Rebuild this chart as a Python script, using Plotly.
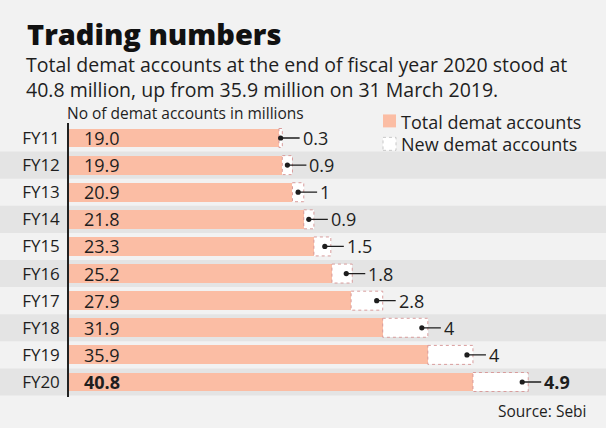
import plotly.graph_objects as go

# ---- data ----
years = ["FY11", "FY12", "FY13", "FY14", "FY15", "FY16", "FY17", "FY18", "FY19", "FY20"]
total_accounts = [19.0, 19.9, 20.9, 21.8, 23.3, 25.2, 27.9, 31.9, 35.9, 40.8]
new_accounts = [0.3, 0.9, 1.0, 0.9, 1.5, 1.8, 2.8, 4.0, 4.0, 4.9]
total_labels = ["19.0", "19.9", "20.9", "21.8", "23.3", "25.2", "27.9", "31.9", "35.9", "40.8"]
new_labels = ["0.3", "0.9", "1", "0.9", "1.5", "1.8", "2.8", "4", "4", "4.9"]

# ---- layout constants ----
W, H = 606, 428
AXIS_PX = 68          # pixel x of the value axis origin
PX_PER_UNIT = 11.28   # horizontal scale
PLOT_TOP, PLOT_BOT = 122.6, 397.2
PINK = "#fbbda4"
BAND = "#e4e4e4"
BG = "#f2f2f2"
TXT = "#1e1e1e"
FONT = "Open Sans"
BAR_W = 0.70

def py(p):  # pixel y -> paper y
    return (PLOT_BOT - p) / (PLOT_BOT - PLOT_TOP)

def px(p):  # pixel x -> paper x
    return p / W

prior = [t - n for t, n in zip(total_accounts, new_accounts)]

fig = go.Figure()
fig.add_trace(go.Bar(y=years, x=prior, orientation="h", marker=dict(color=PINK, line_width=0),
                     width=BAR_W, name="Total demat accounts", hoverinfo="skip"))
fig.add_trace(go.Bar(y=years, x=new_accounts, orientation="h", marker=dict(color="white", line_width=0),
                     width=BAR_W, name="New demat accounts", hoverinfo="skip"))

shapes = []
for i, yr in enumerate(years):
    if i % 2 == 1:
        shapes.append(dict(type="rect", xref="paper", yref="y", x0=0, x1=1, y0=i - 0.5, y1=i + 0.5,
                           fillcolor=BAND, line_width=0, layer="below"))
    shapes.append(dict(type="rect", xref="x", yref="y", x0=prior[i], x1=total_accounts[i],
                       y0=i - BAR_W / 2, y1=i + BAR_W / 2,
                       line=dict(color="#d89c9c", width=1, dash="dot"), fillcolor="rgba(0,0,0,0)"))

# legend swatches
shapes.append(dict(type="rect", xref="paper", yref="paper", x0=px(383), x1=px(396), y0=py(127), y1=py(114),
                   fillcolor=PINK, line_width=0))
shapes.append(dict(type="rect", xref="paper", yref="paper", x0=px(383), x1=px(396), y0=py(150), y1=py(137),
                   fillcolor="white", line=dict(color="#c8c8c8", width=1, dash="dot")))

ann = []
for i, yr in enumerate(years):
    bold = (i == len(years) - 1)
    ann.append(dict(x=0, y=yr, xref="x", yref="y", xshift=54, xanchor="right", showarrow=False,
                    text=total_labels[i], font=dict(family=FONT, size=18, color=TXT, weight=700 if bold else 400)))
    shift = -min(6, new_accounts[i] * PX_PER_UNIT / 2)
    ann.append(dict(x=total_accounts[i], y=yr, xref="x", yref="y", xshift=shift, ax=19, ay=0,
                    xanchor="left", showarrow=True, arrowhead=6, arrowsize=1, arrowwidth=1.3,
                    arrowcolor=TXT, borderpad=2, standoff=0,
                    text=new_labels[i], font=dict(family=FONT, size=18, color=TXT, weight=700 if bold else 400)))

ann.append(dict(x=px(25), y=py(33), xref="paper", yref="paper", xanchor="left", yanchor="middle",
                showarrow=False, text="Trading numbers",
                font=dict(family=FONT, size=29, color="#111", weight=800)))
ann.append(dict(x=px(24), y=py(76.5), xref="paper", yref="paper", xanchor="left", yanchor="middle",
                showarrow=False, align="left",
                text="Total demat accounts at the end of fiscal year 2020 stood at<br>40.8 million, up from 35.9 million on 31 March 2019.",
                font=dict(family=FONT, size=19.5, color=TXT)))
ann.append(dict(x=px(65), y=py(112.5), xref="paper", yref="paper", xanchor="left", yanchor="middle",
                showarrow=False, text="No of demat accounts in millions",
                font=dict(family=FONT, size=15.5, color=TXT)))
ann.append(dict(x=px(399), y=py(121.5), xref="paper", yref="paper", xanchor="left", yanchor="middle",
                showarrow=False, text="Total demat accounts", font=dict(family=FONT, size=18, color=TXT)))
ann.append(dict(x=px(399), y=py(143.5), xref="paper", yref="paper", xanchor="left", yanchor="middle",
                showarrow=False, text="New demat accounts", font=dict(family=FONT, size=18, color=TXT)))
ann.append(dict(x=px(589), y=py(411), xref="paper", yref="paper", xanchor="right", yanchor="middle",
                showarrow=False, text="Source: Sebi", font=dict(family=FONT, size=15.5, color=TXT)))

fig.update_layout(
    width=W, height=H, barmode="stack", showlegend=False,
    paper_bgcolor=BG, plot_bgcolor="rgba(0,0,0,0)",
    margin=dict(l=0, r=0, t=PLOT_TOP, b=H - PLOT_BOT, pad=0),
    xaxis=dict(range=[-AXIS_PX / PX_PER_UNIT, (W - AXIS_PX) / PX_PER_UNIT], visible=False, fixedrange=True),
    yaxis=dict(categoryorder="array", categoryarray=years, autorange="reversed",
               anchor="free", position=AXIS_PX / W, showline=True, linecolor="#222", linewidth=1.5,
               showgrid=False, zeroline=False, ticks="", ticklabelstandoff=4,
               tickfont=dict(family=FONT, size=17, color=TXT), fixedrange=True),
    shapes=shapes, annotations=ann,
)
fig.write_html("out.html", config={"displayModeBar": False},
               post_script="document.body.style.margin='0px';document.body.style.overflow='hidden';")
